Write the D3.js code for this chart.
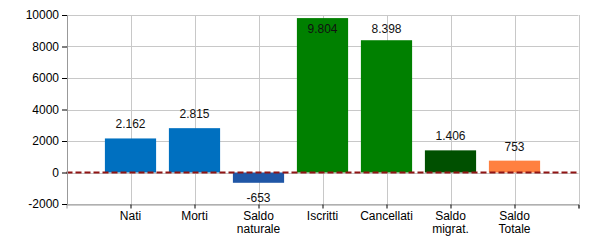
<!DOCTYPE html>
<html>
<head>
<meta charset="utf-8">
<script src="https://cdn.jsdelivr.net/npm/d3@7"></script>
<style>
  body { margin: 0; background: #fff; }
  text { font-family: "Liberation Sans", Arial, sans-serif; }
</style>
</head>
<body>
<div id="chart"></div>
<script>
// data
var categories = ["Nati", "Morti", "Saldo naturale", "Iscritti", "Cancellati", "Saldo migrat.", "Saldo Totale"];
var labelLines = [["Nati"], ["Morti"], ["Saldo", "naturale"], ["Iscritti"], ["Cancellati"], ["Saldo", "migrat."], ["Saldo", "Totale"]];
var values = [2162, 2815, -653, 9804, 8398, 1406, 753];
var barColors = ["#0070c0", "#0070c0", "#1f56a6", "#008000", "#008000", "#005000", "#ff8040"];
var yTicks = [-2000, 0, 2000, 4000, 6000, 8000, 10000];

var width = 600, height = 250;
var margin = {top: 15, right: 21.5, bottom: 46, left: 66.5};

var svg = d3.select("#chart").append("svg")
    .attr("width", width)
    .attr("height", height);

// x is a linear scale 0..8, categories sit at 1..7
var x = d3.scaleLinear()
    .domain([0, categories.length + 1])
    .range([margin.left, width - margin.right]);

var y = d3.scaleLinear()
    .domain([-2000, 10000])
    .range([height - margin.bottom, margin.top]);

var step = x(1) - x(0);
var barW = step * 0.8;

// plain hyphen minus, like the original
var locale = d3.formatLocale({decimal: ",", thousands: ".", grouping: [3], currency: ["", ""], minus: "-"});
var fmtVal = locale.format(",d");
var fmtTick = locale.format("d");

// grid
var g = svg.append("g");
g.selectAll(".hgrid")
    .data(yTicks)
    .enter().append("line")
    .attr("x1", x(0)).attr("x2", x(categories.length + 1))
    .attr("y1", function(d) { return Math.round(y(d)) + 0.5; })
    .attr("y2", function(d) { return Math.round(y(d)) + 0.5; })
    .attr("stroke", "#c8c8c8");

g.selectAll(".vgrid")
    .data(d3.range(1, categories.length + 2))
    .enter().append("line")
    .attr("x1", function(d) { return Math.round(x(d)) + 0.5; })
    .attr("x2", function(d) { return Math.round(x(d)) + 0.5; })
    .attr("y1", y(10000)).attr("y2", y(-2000))
    .attr("stroke", "#c8c8c8");

// bars
svg.selectAll(".bar")
    .data(values)
    .enter().append("rect")
    .attr("x", function(d, i) { return x(i + 1) - barW / 2; })
    .attr("width", barW)
    .attr("y", function(d) { return y(Math.max(0, d)); })
    .attr("height", function(d) { return Math.abs(y(d) - y(0)); })
    .attr("fill", function(d, i) { return barColors[i]; });

// zero line
svg.append("line")
    .attr("x1", x(0)).attr("x2", x(categories.length + 1))
    .attr("y1", y(0)).attr("y2", y(0))
    .attr("stroke", "#8f1414")
    .attr("stroke-width", 2)
    .attr("stroke-dasharray", "6,3");

// value labels
svg.selectAll(".val")
    .data(values)
    .enter().append("text")
    .attr("x", function(d, i) { return x(i + 1); })
    .attr("y", function(d) {
        if (d < 0) return y(d) + 19;
        var yy = y(d) - 10;
        return Math.max(yy, margin.top + 18);
    })
    .attr("text-anchor", "middle")
    .attr("font-size", 12)
    .attr("fill", "#111")
    .text(function(d) { return fmtVal(d); });

// y axis
var yAxis = svg.append("g")
    .attr("transform", "translate(" + Math.round(x(0)) + ",0)")
    .call(d3.axisLeft(y).tickValues(yTicks).tickSize(5).tickFormat(fmtTick));
yAxis.select(".domain").attr("stroke", "#999");
yAxis.selectAll("text").attr("font-size", 12).attr("fill", "#000").attr("font-family", "Liberation Sans, Arial, sans-serif");

// x axis
var xAxis = svg.append("g")
    .attr("transform", "translate(0," + (Math.round(y(-2000)) + 0.5) + ")")
    .call(d3.axisBottom(x).tickValues(d3.range(1, categories.length + 2)).tickSize(4).tickFormat(""));
xAxis.select(".domain").attr("stroke", "#999");

var xl = svg.selectAll(".xlab")
    .data(labelLines)
    .enter().append("text")
    .attr("text-anchor", "middle")
    .attr("font-size", 12)
    .attr("fill", "#000")
    .attr("x", function(d, i) { return x(i + 1); })
    .attr("y", y(-2000) + 16);
xl.selectAll("tspan")
    .data(function(d) { return d; })
    .enter().append("tspan")
    .attr("x", function() { return d3.select(this.parentNode).attr("x"); })
    .attr("dy", function(d, j) { return j === 0 ? 0 : 13; })
    .text(function(d) { return d; });
</script>
</body>
</html>
